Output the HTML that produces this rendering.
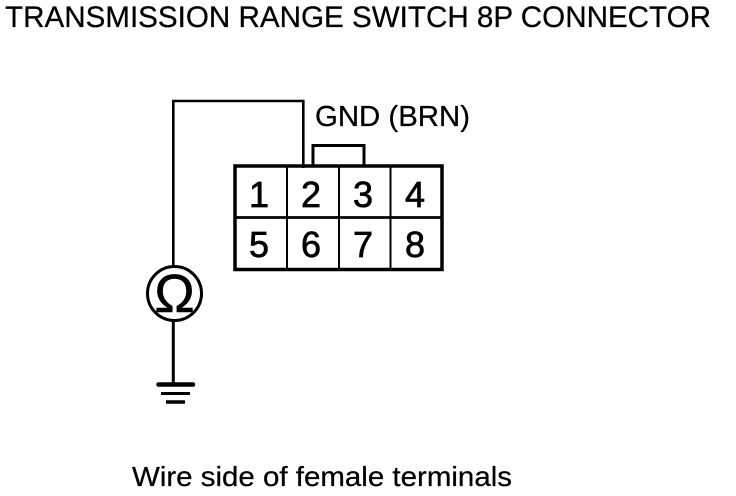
<!DOCTYPE html>
<html>
<head>
<meta charset="utf-8">
<style>
html,body{margin:0;padding:0;background:#fff}
svg{display:block}
text{font-family:"Liberation Sans",sans-serif;fill:#000}
</style>
</head>
<body>
<svg width="736" height="496" viewBox="0 0 736 496" xmlns="http://www.w3.org/2000/svg">
<rect width="736" height="496" fill="#fff"/>
<text x="5" y="27" font-size="29.500" textLength="706" lengthAdjust="spacingAndGlyphs" stroke="#000" stroke-width="0.250">TRANSMISSION RANGE SWITCH 8P CONNECTOR</text>
<text x="315" y="126" font-size="28.500" textLength="155" lengthAdjust="spacingAndGlyphs" stroke="#000" stroke-width="0.250">GND (BRN)</text>
<g fill="none" stroke="#000">
<path d="M173.300 266V101H303.300V168" stroke-width="2.600"/>
<path d="M313 166V145.500H364V166" stroke-width="3"/>
<rect x="235" y="166" width="207" height="103.500" stroke-width="3.500"/>
<path d="M236 217.500H441" stroke-width="2.800"/>
<path d="M287 166V269M339 166V269M390.500 166V269" stroke-width="2"/>
<circle cx="174.500" cy="293.500" r="27" stroke-width="3"/>
<path d="M173.300 321V384" stroke-width="3"/>
</g>
<g font-size="36" text-anchor="middle" stroke="#000" stroke-width="0.700">
<text x="259" y="207">1</text><text x="311" y="207">2</text><text x="363" y="207">3</text><text x="415" y="207">4</text>
<text x="259" y="257">5</text><text x="311" y="257">6</text><text x="363" y="257">7</text><text x="415" y="257">8</text>
</g>
<text x="174.500" y="312" font-size="54" text-anchor="middle" stroke="#000" stroke-width="0.600">Ω</text>
<path d="M158.500 384.500H193" stroke="#000" stroke-width="4.500" stroke-linecap="round"/>
<path d="M161 393.500H190" stroke="#000" stroke-width="3"/>
<path d="M166 402H185" stroke="#000" stroke-width="3.500"/>
<text x="132" y="486" font-size="28" textLength="380" lengthAdjust="spacingAndGlyphs" stroke="#000" stroke-width="0.250">Wire side of female terminals</text>
</svg>
</body>
</html>
